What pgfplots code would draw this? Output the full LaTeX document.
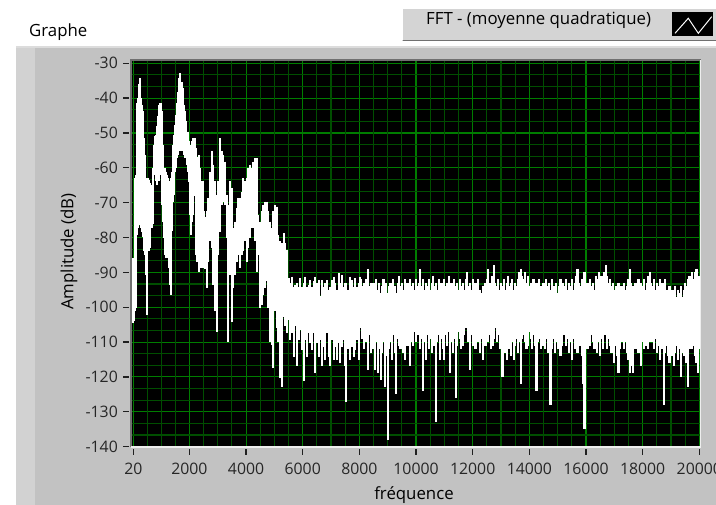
\documentclass[border=0pt]{standalone}
\usepackage{fontspec}
\setmainfont{Open Sans}
\usepackage{pgfplots}
\usepackage{pgfplotstable}
\pgfplotsset{compat=1.18}
\definecolor{panel}{HTML}{C2C2C2}
\definecolor{strip}{HTML}{D2D2D2}
\definecolor{panelhi}{HTML}{DCDCDC}
\definecolor{legbg}{HTML}{D4D4D4}
\definecolor{gridmaj}{RGB}{0,125,0}
\definecolor{gridmin}{RGB}{0,78,0}
\definecolor{bordark}{HTML}{707070}
\definecolor{borlight}{HTML}{EEEEEE}
\definecolor{tickc}{HTML}{202020}

\pgfplotstableread{
f up lo
20 -85.9 -104.6
50 -86.0 -104.0
80 -63.0 -101.2
110 -62.0 -100.3
140 -60.1 -79.2
170 -41.4 -77.3
200 -40.0 -76.4
230 -36.0 -75.0
250 -34.3 -74.0
270 -40.0 -76.4
300 -40.0 -77.3
330 -41.9 -78.3
360 -43.8 -79.7
390 -51.5 -84.0
420 -56.3 -84.0
450 -63.0 -85.0
480 -63.0 -90.7
510 -63.9 -102.2
540 -63.0 -84.0
570 -63.5 -84.0
600 -64.4 -83.1
630 -65.0 -71.6
660 -65.8 -73.0
690 -68.7 -77.3
720 -60.0 -76.0
750 -53.4 -62.0
780 -51.0 -61.0
810 -50.5 -61.5
840 -50.5 -63.9
870 -48.0 -64.9
900 -45.0 -63.9
930 -41.9 -63.9
960 -41.4 -62.0
990 -41.4 -60.1
1020 -43.8 -62.0
1050 -53.4 -70.6
1080 -59.1 -75.4
1110 -60.1 -80.2
1140 -60.1 -85.0
1170 -61.1 -85.9
1200 -62.0 -85.9
1230 -63.0 -84.0
1260 -65.8 -83.1
1290 -64.9 -88.8
1320 -63.9 -93.6
1350 -63.0 -96.5
1380 -61.1 -78.0
1410 -55.3 -69.7
1440 -53.4 -67.8
1470 -50.5 -63.9
1500 -47.7 -61.1
1530 -44.8 -60.1
1560 -41.4 -57.2
1590 -38.1 -56.3
1620 -36.2 -55.3
1650 -34.3 -55.3
1680 -32.8 -54.4
1710 -37.1 -54.4
1740 -35.5 -55.3
1770 -37.1 -55.3
1800 -41.9 -55.3
1830 -43.8 -56.3
1860 -46.7 -57.2
1890 -48.6 -57.2
1920 -49.6 -59.1
1950 -49.6 -61.1
1980 -52.4 -64.0
2010 -56.3 -67.8
2040 -55.3 -73.5
2070 -53.4 -79.2
2100 -52.4 -75.4
2130 -51.5 -73.5
2160 -51.5 -65.8
2190 -51.5 -68.0
2220 -54.4 -80.0
2250 -57.0 -85.0
2280 -61.1 -86.9
2310 -58.2 -86.9
2340 -56.3 -89.8
2370 -60.0 -88.8
2400 -70.6 -87.8
2430 -66.8 -87.8
2460 -63.9 -88.8
2490 -70.6 -88.8
2520 -72.5 -88.8
2550 -74.0 -89.0
2610 -72.5 -94.5
2669 -68.7 -86.9
2728 -61.1 -81.1
2786 -55.3 -83.1
2845 -59.1 -93.6
2904 -63.9 -101.2
2963 -67.8 -107.0
3022 -63.9 -85.0
3081 -51.5 -78.3
3140 -55.3 -70.6
3198 -56.3 -69.7
3257 -58.2 -70.6
3316 -67.8 -80.2
3375 -70.6 -109.9
3434 -63.9 -90.7
3493 -65.8 -104.1
3551 -77.3 -94.5
3610 -75.4 -90.7
3669 -71.6 -86.9
3728 -68.7 -85.0
3787 -68.7 -88.8
3846 -66.8 -85.0
3905 -63.0 -84.0
3963 -63.9 -81.1
4022 -63.0 -86.9
4081 -60.1 -83.1
4140 -59.1 -80.2
4199 -60.1 -77.3
4258 -58.2 -77.3
4317 -57.2 -81.1
4375 -57.2 -89.8
4434 -73.5 -85.0
4493 -75.4 -100.3
4552 -72.5 -99.3
4611 -70.6 -96.5
4670 -69.7 -94.5
4729 -69.7 -92.6
4787 -72.5 -100.3
4846 -75.4 -109.9
4905 -77.3 -110.8
4964 -72.5 -117.5
5023 -70.6 -101.2
5081 -71.1 -106.0
5140 -79.2 -109.9
5199 -81.1 -120.4
5269 -81.6 -122.8
5328 -78.8 -102.7
5387 -81.6 -105.5
5446 -83.5 -107.5
5504 -91.7 -103.6
5563 -93.1 -109.4
5622 -91.2 -107.5
5681 -94.1 -114.2
5740 -93.6 -105.5
5799 -93.1 -117.0
5857 -94.1 -109.4
5916 -91.7 -106.5
5975 -94.1 -112.2
6034 -93.1 -121.3
6093 -91.2 -109.4
6152 -94.1 -114.2
6210 -93.6 -107.5
6269 -92.2 -110.3
6328 -94.1 -112.2
6387 -92.6 -107.5
6446 -91.2 -119.0
6505 -93.1 -110.3
6564 -92.2 -114.2
6622 -96.9 -109.4
6681 -92.2 -117.0
6740 -94.1 -111.3
6799 -93.1 -115.1
6858 -92.2 -107.5
6916 -95.0 -114.2
6975 -94.1 -117.0
7034 -92.2 -109.4
7093 -91.2 -115.1
7152 -93.1 -111.3
7210 -95.0 -115.1
7269 -90.2 -110.3
7328 -93.1 -116.1
7387 -90.7 -111.3
7446 -94.1 -109.4
7505 -93.1 -117.0
7541 -93.0 -127.1
7582 -95.0 -112.0
7623 -97.9 -110.3
7682 -91.2 -115.1
7741 -92.2 -111.3
7799 -94.1 -114.2
7858 -91.7 -112.2
7917 -94.1 -109.4
7976 -93.1 -115.1
8034 -91.2 -105.5
8050 -92 -106
8100 -94 -109
8150 -93 -112
8200 -95 -107
8250 -92 -110
8300 -89 -118
8350 -94 -108
8400 -93 -113
8450 -96 -106
8500 -93 -112
8550 -94 -118
8600 -92 -110
8650 -95 -119
8700 -93 -112
8750 -96 -121
8800 -94 -113
8850 -92 -110
8900 -95 -123
8950 -93 -114
9000 -96 -138
9050 -94 -112
9100 -93 -110
9150 -95 -115
9200 -92 -108
9250 -94 -113
9300 -96 -125
9350 -93 -109
9400 -91 -111
9450 -94 -112
9500 -93 -107
9550 -95 -113
9600 -92 -115
9650 -94 -109
9700 -93 -111
9750 -95 -108
9800 -92 -117
9850 -94 -110
9900 -93 -111
9950 -95 -107
10000 -92 -110
10050 -94 -108
10100 -93 -106
10150 -89 -112
10200 -94 -109
10250 -92 -124
10300 -95 -110
10350 -93 -115
10400 -94 -108
10450 -92 -112
10500 -95 -109
10550 -93 -113
10600 -91 -107
10650 -94 -111
10700 -93 -133
10750 -95 -110
10800 -92 -108
10850 -94 -115
10900 -93 -109
10950 -95 -112
11000 -92 -115
11050 -94 -108
11100 -93 -111
11150 -91 -107
11200 -94 -119
11250 -93 -110
11300 -95 -113
11350 -92 -109
11400 -94 -126
11450 -93 -111
11500 -95 -107
11550 -92 -109
11600 -94 -112
11650 -93 -111
11700 -95 -108
11750 -92 -106
11800 -90 -106
11850 -94 -110
11900 -93 -118
11950 -95 -108
12000 -92 -111
12050 -94 -107
12100 -93 -112
12150 -95 -109
12200 -92 -110
12250 -95 -113
12300 -96 -109
12350 -94 -115
12400 -97 -108
12450 -93 -111
12500 -92 -107
12550 -89 -110
12600 -93 -108
12650 -94 -112
12700 -91 -111
12750 -88 -109
12800 -93 -106
12850 -94 -110
12900 -92 -108
12950 -95 -112
13000 -93 -106
13050 -94 -120
13100 -92 -110
13150 -95 -113
13200 -93 -115
13250 -91 -109
13300 -94 -112
13350 -93 -114
13400 -92 -110
13450 -95 -115
13500 -93 -111
13550 -94 -109
13600 -92 -113
13650 -90 -110
13700 -89 -122
13750 -91 -109
13800 -92 -108
13850 -90 -110
13900 -93 -112
13950 -91 -111
14000 -94 -107
14050 -93 -109
14100 -95 -112
14150 -92 -108
14200 -94 -111
14250 -93 -124
14300 -95 -110
14350 -92 -109
14400 -94 -112
14450 -96 -108
14500 -93 -111
14550 -95 -112
14600 -92 -109
14650 -94 -113
14700 -93 -110
14750 -95 -128
14800 -92 -112
14850 -94 -109
14900 -96 -113
14950 -93 -110
15000 -96 -112
15050 -94 -109
15100 -92 -114
15150 -95 -111
15200 -93 -108
15250 -94 -108
15300 -92 -111
15350 -95 -109
15400 -93 -113
15450 -94 -110
15500 -92 -115
15550 -95 -109
15600 -93 -112
15650 -91 -110
15700 -89 -113
15750 -93 -109
15800 -94 -111
15850 -92 -114
15900 -93 -122
15950 -90 -135
16000 -94 -110
16050 -93 -112
16100 -95 -109
16150 -92 -111
16200 -94 -108
16250 -93 -110
16300 -95 -112
16350 -91 -108
16400 -92 -113
16450 -90 -110
16500 -93 -114
16550 -91 -109
16600 -92 -112
16650 -90 -108
16700 -88 -104
16750 -91 -112
16800 -93 -109
16850 -92 -111
16900 -94 -113
16950 -93 -112
17000 -95 -116
17050 -94 -111
17100 -96 -114
17150 -93 -119
17200 -95 -112
17250 -94 -110
17300 -96 -109
17350 -93 -112
17400 -95 -110
17450 -94 -113
17500 -92 -115
17550 -89 -119
17600 -93 -117
17650 -94 -119
17700 -95 -112
17750 -93 -112
17800 -94 -110
17850 -92 -113
17900 -95 -111
17950 -93 -117
18000 -94 -110
18050 -92 -112
18100 -95 -111
18150 -93 -109
18200 -91 -112
18250 -90 -110
18300 -93 -108
18350 -94 -110
18400 -92 -112
18450 -95 -109
18500 -93 -113
18550 -94 -111
18600 -92 -115
18650 -95 -110
18700 -93 -112
18750 -94 -128
18800 -92 -113
18850 -95 -111
18900 -96 -114
18950 -94 -116
19000 -97 -112
19050 -95 -114
19100 -96 -117
19150 -94 -113
19200 -97 -111
19250 -95 -115
19300 -96 -112
19350 -94 -120
19400 -97 -113
19450 -95 -114
19500 -93 -111
19550 -94 -116
19600 -92 -123
19650 -91 -112
19700 -93 -110
19750 -90 -112
19800 -92 -111
19850 -90 -114
19900 -89 -116
19950 -92 -119
20000 -91 -112
}\spec

\begin{document}
\begin{tikzpicture}[x=1bp,y=1bp]
\useasboundingbox (0,0) rectangle (716,505);
\fill[white] (0,0) rectangle (716,505);
% panel
\fill[panel] (16,0) rectangle (716,459);
\fill[strip] (16,0) rectangle (35,459);
\fill[panelhi] (16,456.5) rectangle (716,459);
% legend box
\fill[legbg] (402,464) rectangle (716,497);
\draw[white, line width=1bp] (402.5,464.5) -- (402.5,496.5) -- (716,496.5);
\draw[bordark, line width=1bp] (402.5,464.5) -- (716,464.5);
\node[anchor=base west, inner sep=0pt, font=\fontsize{16.8bp}{20bp}\selectfont] at (426,480) {FFT - (moyenne quadratique)};
\fill[black] (672,469) rectangle (713,493);
\draw[white, line width=1bp] (675,471.7) -- (688.3,486.7) -- (698.3,471.7) -- (711.7,488.3);
% title
\node[anchor=base west, inner sep=0pt, font=\fontsize{16.8bp}{20bp}\selectfont] at (29,468) {Graphe};
\begin{axis}[
  name=ax,
  at={(131bp,58bp)}, anchor=south west,
  scale only axis, width=569.5bp, height=387bp,
  xmin=-61, xmax=20042, ymin=-140.1, ymax=-29.05,
  scaled x ticks=false, scaled y ticks=false,
  axis background/.style={fill=black},
  axis line style={draw=none},
  xtick={20,2000,4000,6000,8000,10000,12000,14000,16000,18000,20000},
  xticklabels={20,2000,4000,6000,8000,10000,12000,14000,16000,18000,20000},
  ytick={-140,-130,...,-30},
  yticklabels={-140,-130,-120,-110,-100,-90,-80,-70,-60,-50,-40,-30},
  extra x ticks={515,1010,1505,2500,3000,3500,4500,5000,5500,6500,7000,7500,8500,9000,9500,10500,11000,11500,12500,13000,13500,14500,15000,15500,16500,17000,17500,18500,19000,19500},
  extra y ticks={-136.667,-133.333,-126.667,-123.333,-116.667,-113.333,-106.667,-103.333,-96.667,-93.333,-86.667,-83.333,-76.667,-73.333,-66.667,-63.333,-56.667,-53.333,-46.667,-43.333,-36.667,-33.333},
  extra x tick labels={}, extra y tick labels={},
  extra tick style={grid=major, major grid style={draw=gridmin, line width=1.1bp}, major tick length=0pt, tick style={draw=none}},
  grid=major,
  major grid style={draw=gridmaj, line width=1.1bp},
  tick align=inside, major tick length=6bp,
  xtick pos=bottom, ytick pos=left,
  x tick style={draw=tickc, line width=1.3bp, yshift=-8bp},
  y tick style={draw=tickc, line width=1.3bp, xshift=-8bp},
  xticklabel style={inner sep=0pt, yshift=-15.5bp, font=\fontsize{15.8bp}{18bp}\selectfont, text=black!85},
  yticklabel style={inner sep=0pt, xshift=-13bp, font=\fontsize{15.8bp}{18bp}\selectfont, text=black!85},
  /pgf/number format/assume math mode=true,
]
\addplot[draw=none, mark=none,
  error bars/.cd, y dir=minus, y explicit, error mark=none,
  error bar style={draw=white, line width=2.2bp}]
  table[x=f, y=up, y error minus expr={\thisrow{up}-\thisrow{lo}}] {\spec};
\end{axis}
\draw[bordark, line width=1.5bp] (ax.south west) -- (ax.north west) -- (ax.north east);
\draw[borlight, line width=1.2bp] (ax.south west) -- (ax.south east) -- (ax.north east);
\node[rotate=90, inner sep=0pt, font=\fontsize{16.8bp}{20bp}\selectfont] at (69,253.5) {Amplitude (dB)};
\node[anchor=base, inner sep=0pt, font=\fontsize{16.8bp}{20bp}\selectfont] at (414,5) {fréquence};
\end{tikzpicture}
\end{document}
